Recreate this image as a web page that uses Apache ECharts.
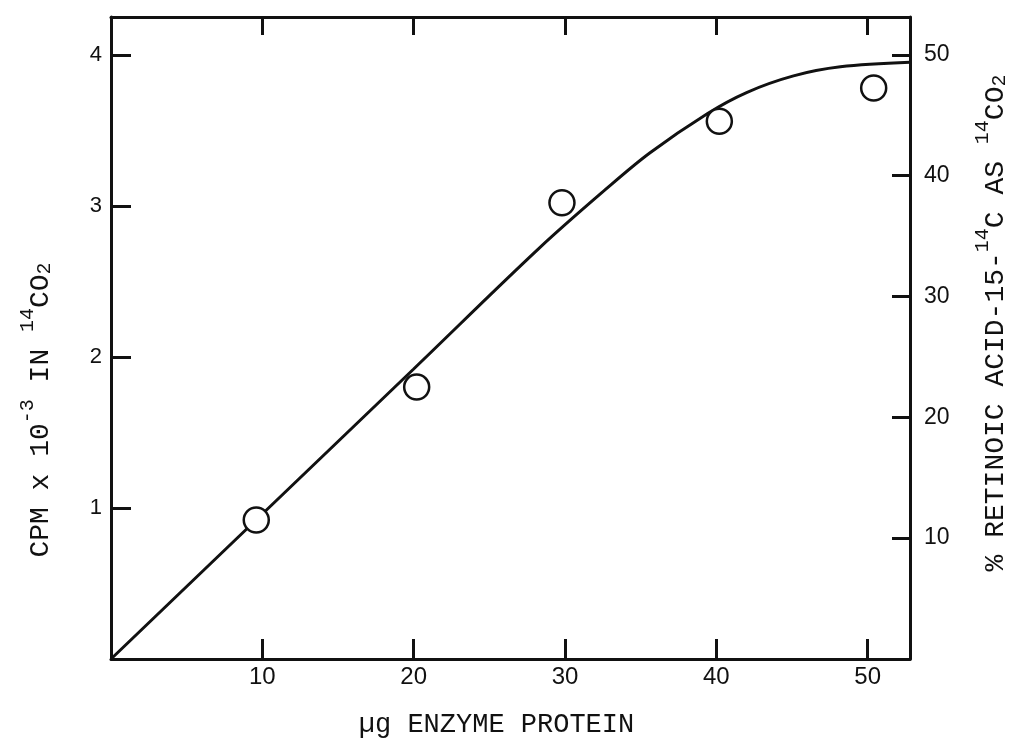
<!DOCTYPE html>
<html>
<head>
<meta charset="utf-8">
<script src="https://cdn.jsdelivr.net/npm/echarts@6/dist/echarts.min.js"></script>
<style>
html,body{margin:0;padding:0;background:#fff;}
#chart{width:1032px;height:743px;}
</style>
</head>
<body>
<div id="chart"></div>
<script>
// Data
const pointX = [9.6, 20.2, 29.8, 40.2, 50.4];          // µg enzyme protein
const pointY = [0.92, 1.80, 3.02, 3.56, 3.78];         // CPM x 10^-3
const curveX = [0, 10, 20, 28.3, 32.7, 35.6, 39.4, 42.0, 45.1, 48.2, 52.8];
const curveY = [0, 0.96, 1.92, 2.72, 3.11, 3.35, 3.61, 3.75, 3.86, 3.92, 3.95];
const xTicks = [10, 20, 30, 40, 50];
const leftTicks = [1, 2, 3, 4];
const rightTicks = [10, 20, 30, 40, 50];

const INK = '#111';
const MONO = '"Liberation Mono", "DejaVu Sans Mono", monospace';
const HAND = '"Liberation Sans", "DejaVu Sans", sans-serif';

function richStyles(base) {
  return {
    n: { fontSize: base, lineHeight: base + 2, verticalAlign: 'bottom', fontFamily: MONO, color: INK },
    sup: { fontSize: Math.round(base * 0.7), lineHeight: Math.round(base * 0.7), padding: [0, 0, Math.round(base * 0.62), 0], verticalAlign: 'bottom', fontFamily: MONO, color: INK },
    sub: { fontSize: Math.round(base * 0.7), lineHeight: Math.round(base * 0.7), verticalAlign: 'bottom', fontFamily: MONO, color: INK }
  };
}

const chart = echarts.init(document.getElementById('chart'), null, { renderer: 'canvas' });

const axisLineStyle = { color: INK, width: 3 };
const tickStyle = { color: INK, width: 3 };

chart.setOption({
  backgroundColor: '#fff',
  animation: false,
  grid: { left: 111, right: 122, top: 17, bottom: 81 },
  xAxis: [
    {
      type: 'value', position: 'bottom', min: 0, max: 52.8, interval: 10,
      axisLine: { show: true, onZero: false, lineStyle: axisLineStyle },
      axisTick: { show: true, inside: true, length: 20, lineStyle: tickStyle, customValues: xTicks },
      axisLabel: { show: true, customValues: xTicks, fontFamily: HAND, fontSize: 24, color: INK, margin: 6 },
      splitLine: { show: false },
      name: '{n|µg ENZYME PROTEIN}',
      nameLocation: 'middle', nameGap: 50,
      nameTextStyle: { rich: richStyles(27), padding: [0, 28, 0, 0] }
    },
    {
      type: 'value', position: 'top', min: 0, max: 52.8, interval: 10,
      axisLine: { show: true, onZero: false, lineStyle: axisLineStyle },
      axisTick: { show: true, inside: true, length: 18, lineStyle: tickStyle, customValues: xTicks },
      axisLabel: { show: false },
      splitLine: { show: false }
    }
  ],
  yAxis: [
    {
      type: 'value', position: 'left', min: 0, max: 4.25, interval: 1,
      axisLine: { show: true, onZero: false, lineStyle: axisLineStyle },
      axisTick: { show: true, inside: true, length: 20, lineStyle: tickStyle, customValues: leftTicks },
      axisLabel: { show: true, customValues: leftTicks, fontFamily: HAND, fontSize: 22, color: INK, margin: 9 },
      splitLine: { show: false },
      name: '{n|CPM x 10}{sup|-3}{n| IN }{sup|14}{n|CO}{sub|2}',
      nameLocation: 'middle', nameRotate: 90, nameGap: 56,
      nameTextStyle: { rich: richStyles(28), padding: [0, 144, 0, 0] }
    },
    {
      type: 'value', position: 'right', min: 0, max: 53.125, interval: 10,
      axisLine: { show: true, onZero: false, lineStyle: axisLineStyle },
      axisTick: { show: true, inside: true, length: 18, lineStyle: tickStyle, customValues: rightTicks },
      axisLabel: { show: true, customValues: rightTicks, fontFamily: HAND, fontSize: 23, color: INK, margin: 14 },
      splitLine: { show: false },
      name: '{n|% RETINOIC ACID-15-}{sup|14}{n|C AS }{sup|14}{n|CO}{sub|2}',
      nameLocation: 'middle', nameRotate: 90, nameGap: 70,
      nameTextStyle: { rich: richStyles(28), padding: [0, 0, 0, 30] }
    }
  ],
  series: [
    {
      type: 'line', xAxisIndex: 0, yAxisIndex: 0,
      data: curveX.map((x, i) => [x, curveY[i]]),
      smooth: 0.35,
      showSymbol: false, symbol: 'none',
      lineStyle: { color: INK, width: 3 },
      z: 2
    },
    {
      type: 'scatter', xAxisIndex: 0, yAxisIndex: 0,
      data: pointX.map((x, i) => [x, pointY[i]]),
      symbol: 'circle', symbolSize: 25,
      itemStyle: { color: '#fff', borderColor: INK, borderWidth: 2.5, opacity: 1 },
      z: 3
    }
  ]
});
</script>
</body>
</html>
